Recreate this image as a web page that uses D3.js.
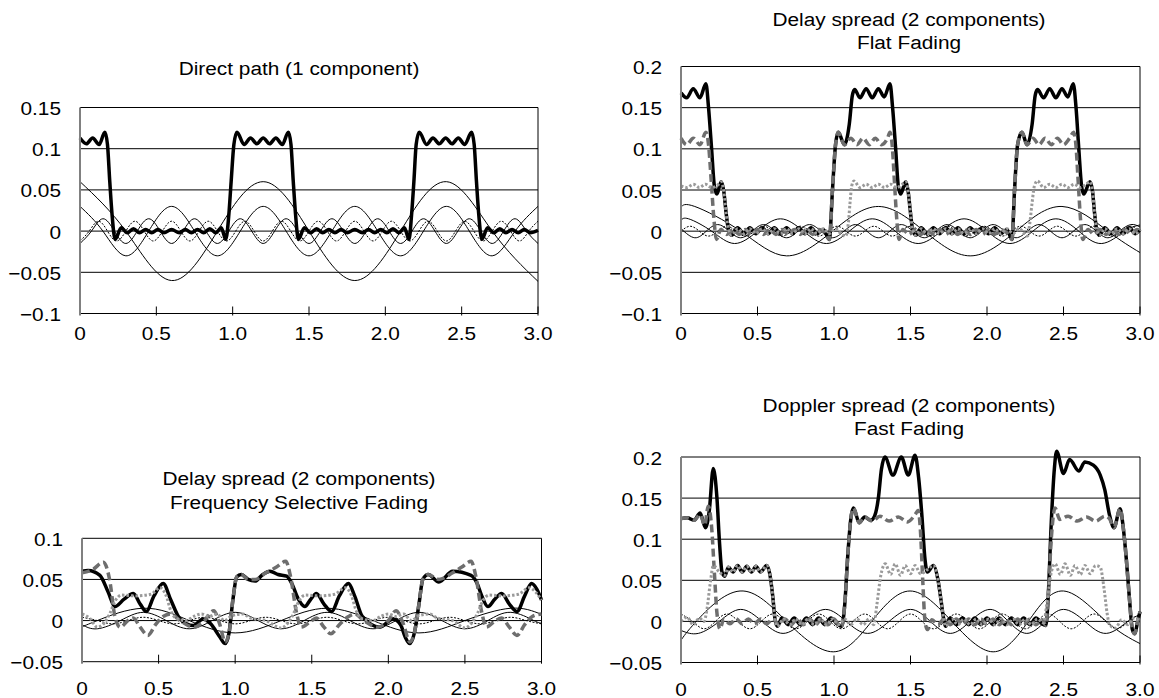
<!DOCTYPE html>
<html>
<head>
<meta charset="utf-8">
<script src="https://cdn.jsdelivr.net/npm/d3@7"></script>
<style>
  body { margin: 0; background: #fff; }
  text { font-family: "Liberation Sans", Arial, sans-serif; font-size: 18.6px; fill: #000; }
</style>
</head>
<body>
<svg id="chart" width="1159" height="698"></svg>
<script>
// ---------- DATA (t, value) ----------

// panel 1 : direct path
var p1Sum = [[0,0.113],[0.042,0.106],[0.083,0.113],[0.125,0.105],[0.163,0.12],[0.18,0.105],[0.195,0.06],[0.21,0.02],[0.23,-0.01],[0.27,0.004],[0.31,-0.002],[0.35,0.003],[0.39,-0.002],[0.43,0.002],[0.47,-0.002],[0.51,0.002],[0.55,-0.002],[0.6,0.002],[0.65,-0.002],[0.69,0.002],[0.73,-0.002],[0.77,0.002],[0.81,-0.002],[0.85,0.003],[0.89,-0.002],[0.925,0.004],[0.955,-0.01],[0.975,0.02],[0.99,0.06],[1.008,0.105],[1.028,0.12],[1.075,0.105],[1.117,0.113],[1.158,0.106],[1.2,0.113],[1.242,0.106],[1.283,0.113],[1.325,0.105],[1.365,0.12],[1.382,0.105],[1.397,0.06],[1.412,0.02],[1.43,-0.01],[1.47,0.004],[1.51,-0.002],[1.55,0.003],[1.59,-0.002],[1.63,0.002],[1.67,-0.002],[1.71,0.002],[1.75,-0.002],[1.8,0.002],[1.85,-0.002],[1.89,0.002],[1.93,-0.002],[1.97,0.002],[2.01,-0.002],[2.05,0.003],[2.09,-0.002],[2.125,0.004],[2.155,-0.01],[2.172,0.02],[2.187,0.06],[2.202,0.105],[2.222,0.12],[2.27,0.105],[2.312,0.113],[2.353,0.106],[2.395,0.113],[2.437,0.106],[2.478,0.113],[2.52,0.105],[2.565,0.12],[2.582,0.105],[2.597,0.06],[2.612,0.02],[2.632,-0.01],[2.67,0.004],[2.71,-0.002],[2.75,0.003],[2.79,-0.002],[2.83,0.002],[2.87,-0.002],[2.91,0.002],[2.95,-0.002],[3.0,0.001]];
var p1Wave1 = [[0,0.06],[0.3,0],[0.6,-0.06],[0.9,0],[1.2,0.06],[1.5,0],[1.8,-0.06],[2.1,0],[2.4,0.06],[2.7,0],[3.0,-0.061]];
var p1Wave2 = [[0,0.03],[0.15,0],[0.3,-0.03],[0.45,0],[0.6,0.03],[0.75,0],[0.9,-0.03],[1.05,0],[1.2,0.03],[1.35,0],[1.5,-0.03],[1.65,0],[1.8,0.03],[1.95,0],[2.1,-0.03],[2.25,0],[2.4,0.03],[2.55,0],[2.7,-0.03],[2.85,0],[3.0,0.03]];
var p1Wave4 = [[0,-0.015],[0.075,0],[0.15,0.015],[0.225,0],[0.3,-0.015],[0.375,0],[0.45,0.015],[0.525,0],[0.6,-0.015],[0.675,0],[0.75,0.015],[0.825,0],[0.9,-0.015],[0.975,0],[1.05,0.015],[1.125,0],[1.2,-0.015],[1.275,0],[1.35,0.015],[1.425,0],[1.5,-0.015],[1.575,0],[1.65,0.015],[1.725,0],[1.8,-0.015],[1.875,0],[1.95,0.015],[2.025,0],[2.1,-0.015],[2.175,0],[2.25,0.015],[2.325,0],[2.4,-0.015],[2.475,0],[2.55,0.015],[2.625,0],[2.7,-0.015],[2.775,0],[2.85,0.015],[2.925,0],[3.0,-0.015]];
var p1Wave5 = [[0,-0.012],[0.06,0],[0.12,0.012],[0.18,0],[0.24,-0.012],[0.3,0],[0.36,0.012],[0.42,0],[0.48,-0.012],[0.54,0],[0.6,0.012],[0.66,0],[0.72,-0.012],[0.78,0],[0.84,0.012],[0.9,0],[0.96,-0.012],[1.02,0],[1.08,0.012],[1.14,0],[1.2,-0.012],[1.26,0],[1.32,0.012],[1.38,0],[1.44,-0.012],[1.5,0],[1.56,0.012],[1.62,0],[1.68,-0.012],[1.74,0],[1.8,0.012],[1.86,0],[1.92,-0.012],[1.98,0],[2.04,0.012],[2.1,0],[2.16,-0.012],[2.22,0],[2.28,0.012],[2.34,0],[2.4,-0.012],[2.46,0],[2.52,0.012],[2.58,0],[2.64,-0.012],[2.7,0],[2.76,0.012],[2.82,0],[2.88,-0.012],[2.94,0],[3.0,0.012]];

// panel 2 : delay spread, flat fading
var p2Sum = [[0,0.168],[0.037,0.162],[0.08,0.173],[0.124,0.162],[0.163,0.179],[0.18,0.15],[0.2,0.1],[0.218,0.055],[0.235,0.045],[0.262,0.06],[0.28,0.048],[0.295,0.022],[0.31,0.002],[0.33,-0.005],[0.37,0.004],[0.41,-0.003],[0.45,0.004],[0.49,-0.003],[0.53,0.004],[0.57,-0.003],[0.61,0.004],[0.65,-0.003],[0.69,0.004],[0.73,-0.003],[0.77,0.004],[0.81,-0.003],[0.85,0.004],[0.89,-0.003],[0.93,0.002],[0.97,-0.01],[0.99,0.05],[1.01,0.105],[1.028,0.12],[1.068,0.105],[1.1,0.13],[1.12,0.165],[1.135,0.172],[1.17,0.162],[1.21,0.173],[1.25,0.162],[1.29,0.173],[1.328,0.163],[1.366,0.179],[1.383,0.15],[1.403,0.1],[1.42,0.055],[1.435,0.045],[1.469,0.06],[1.485,0.048],[1.5,0.022],[1.514,0.002],[1.535,-0.005],[1.57,0.004],[1.61,-0.003],[1.65,0.004],[1.69,-0.003],[1.73,0.004],[1.77,-0.003],[1.81,0.004],[1.85,-0.003],[1.89,0.004],[1.93,-0.003],[1.97,0.004],[2.01,-0.003],[2.05,0.004],[2.09,-0.003],[2.13,0.002],[2.163,-0.01],[2.18,0.05],[2.2,0.105],[2.228,0.12],[2.262,0.105],[2.295,0.13],[2.315,0.165],[2.33,0.172],[2.37,0.162],[2.41,0.173],[2.45,0.162],[2.49,0.173],[2.528,0.163],[2.564,0.179],[2.582,0.15],[2.6,0.1],[2.618,0.055],[2.632,0.045],[2.673,0.06],[2.69,0.048],[2.703,0.022],[2.717,0.002],[2.735,-0.005],[2.77,0.004],[2.81,-0.003],[2.85,0.004],[2.89,-0.003],[2.93,0.004],[2.97,-0.003],[3.0,0.002]];
var p2Comp1 = [[0,0.113],[0.037,0.105],[0.08,0.113],[0.124,0.105],[0.163,0.12],[0.18,0.105],[0.198,0.06],[0.215,0.015],[0.232,-0.01],[0.26,0.002],[0.3,-0.004],[0.34,0.002],[0.38,-0.004],[0.42,0.002],[0.46,-0.004],[0.5,0.002],[0.54,-0.004],[0.58,0.002],[0.62,-0.004],[0.66,0.002],[0.7,-0.004],[0.74,0.002],[0.78,-0.004],[0.82,0.002],[0.86,-0.004],[0.9,0.002],[0.94,-0.002],[0.97,-0.01],[0.99,0.05],[1.01,0.105],[1.028,0.12],[1.068,0.105],[1.11,0.113],[1.15,0.105],[1.19,0.113],[1.23,0.105],[1.27,0.113],[1.31,0.105],[1.35,0.113],[1.366,0.12],[1.38,0.105],[1.395,0.06],[1.41,0.015],[1.425,-0.01],[1.45,0.002],[1.49,-0.004],[1.53,0.002],[1.57,-0.004],[1.61,0.002],[1.65,-0.004],[1.69,0.002],[1.73,-0.004],[1.77,0.002],[1.81,-0.004],[1.85,0.002],[1.89,-0.004],[1.93,0.002],[1.97,-0.004],[2.01,0.002],[2.05,-0.004],[2.09,0.002],[2.13,-0.002],[2.163,-0.01],[2.18,0.05],[2.2,0.105],[2.228,0.12],[2.262,0.105],[2.3,0.113],[2.34,0.105],[2.38,0.113],[2.42,0.105],[2.46,0.113],[2.5,0.105],[2.54,0.113],[2.566,0.12],[2.581,0.105],[2.596,0.06],[2.611,0.015],[2.626,-0.01],[2.66,0.002],[2.7,-0.004],[2.74,0.002],[2.78,-0.004],[2.82,0.002],[2.86,-0.004],[2.9,0.002],[2.94,-0.004],[2.98,0.002],[3.0,0]];
var p2Comp2 = [[0,0.055],[0.04,0.053],[0.08,0.057],[0.12,0.053],[0.16,0.057],[0.2,0.053],[0.24,0.056],[0.262,0.06],[0.28,0.048],[0.295,0.022],[0.31,0.002],[0.33,-0.005],[0.37,0.003],[0.41,-0.003],[0.45,0.003],[0.49,-0.003],[0.53,0.003],[0.57,-0.003],[0.61,0.003],[0.65,-0.003],[0.69,0.003],[0.73,-0.003],[0.77,0.003],[0.81,-0.003],[0.85,0.003],[0.89,-0.003],[0.93,0.003],[0.97,-0.003],[1.01,0.003],[1.05,-0.004],[1.075,-0.006],[1.094,0.01],[1.105,0.035],[1.116,0.055],[1.13,0.061],[1.17,0.053],[1.21,0.057],[1.25,0.053],[1.29,0.057],[1.33,0.053],[1.37,0.057],[1.41,0.053],[1.44,0.056],[1.469,0.06],[1.485,0.048],[1.5,0.022],[1.514,0.002],[1.535,-0.005],[1.57,0.003],[1.61,-0.003],[1.65,0.003],[1.69,-0.003],[1.73,0.003],[1.77,-0.003],[1.81,0.003],[1.85,-0.003],[1.89,0.003],[1.93,-0.003],[1.97,0.003],[2.01,-0.003],[2.05,0.003],[2.09,-0.003],[2.13,0.003],[2.17,-0.003],[2.21,0.003],[2.25,-0.004],[2.265,-0.006],[2.28,0.01],[2.295,0.035],[2.31,0.055],[2.33,0.061],[2.37,0.053],[2.41,0.057],[2.45,0.053],[2.49,0.057],[2.53,0.053],[2.57,0.057],[2.61,0.053],[2.64,0.056],[2.673,0.06],[2.69,0.048],[2.703,0.022],[2.717,0.002],[2.735,-0.005],[2.77,0.003],[2.81,-0.003],[2.85,0.003],[2.89,-0.003],[2.93,0.003],[2.97,-0.003],[3.0,0.002]];
var p2Wave1 = [[0,0.029],[0.09,0.03],[0.39,0],[0.69,-0.03],[0.99,0],[1.29,0.03],[1.59,0],[1.89,-0.03],[2.19,0],[2.49,0.03],[2.79,0],[3.0,-0.026]];
var p2Wave2 = [[0,0.013],[0.05,0.015],[0.2,0],[0.35,-0.015],[0.5,0],[0.65,0.015],[0.8,0],[0.95,-0.015],[1.1,0],[1.25,0.015],[1.4,0],[1.55,-0.015],[1.7,0],[1.85,0.015],[2.0,0],[2.15,-0.015],[2.3,0],[2.45,0.015],[2.6,0],[2.75,-0.015],[2.9,0],[3.0,0.0075]];
var p2Wave3 = [[0,0.003],[0.09,-0.008],[0.165,0],[0.24,0.008],[0.315,0],[0.39,-0.008],[0.465,0],[0.54,0.008],[0.615,0],[0.69,-0.008],[0.765,0],[0.84,0.008],[0.915,0],[0.99,-0.008],[1.065,0],[1.14,0.008],[1.215,0],[1.29,-0.008],[1.365,0],[1.44,0.008],[1.515,0],[1.59,-0.008],[1.665,0],[1.74,0.008],[1.815,0],[1.89,-0.008],[1.965,0],[2.04,0.008],[2.115,0],[2.19,-0.008],[2.265,0],[2.34,0.008],[2.415,0],[2.49,-0.008],[2.565,0],[2.64,0.008],[2.715,0],[2.79,-0.008],[2.865,0],[2.94,0.008],[3.0,0.005]];
var p2Wave4 = [[0,0],[0.06,0.006],[0.12,0],[0.18,-0.006],[0.24,0],[0.3,0.006],[0.36,0],[0.42,-0.006],[0.48,0],[0.54,0.006],[0.6,0],[0.66,-0.006],[0.72,0],[0.78,0.006],[0.84,0],[0.9,-0.006],[0.96,0],[1.02,0.006],[1.08,0],[1.14,-0.006],[1.2,0],[1.26,0.006],[1.32,0],[1.38,-0.006],[1.44,0],[1.5,0.006],[1.56,0],[1.62,-0.006],[1.68,0],[1.74,0.006],[1.8,0],[1.86,-0.006],[1.92,0],[1.98,0.006],[2.04,0],[2.1,-0.006],[2.16,0],[2.22,0.006],[2.28,0],[2.34,-0.006],[2.4,0],[2.46,0.006],[2.52,0],[2.58,-0.006],[2.64,0],[2.7,0.006],[2.76,0],[2.82,-0.006],[2.88,0],[2.94,0.006],[3.0,0]];

// panel 3 : delay spread, frequency selective fading
var p3Sum = [[0,0.06],[0.04,0.061],[0.117,0.055],[0.17,0.035],[0.215,0.017],[0.275,0.026],[0.335,0.033],[0.38,0.02],[0.42,0.011],[0.47,0.03],[0.53,0.045],[0.58,0.025],[0.64,0.002],[0.727,-0.006],[0.79,0.002],[0.84,-0.004],[0.9,-0.02],[0.935,-0.028],[0.96,-0.015],[0.985,0.025],[1.01,0.053],[1.04,0.056],[1.085,0.05],[1.13,0.048],[1.18,0.056],[1.227,0.06],[1.28,0.056],[1.336,0.054],[1.37,0.045],[1.41,0.027],[1.455,0.017],[1.49,0.025],[1.53,0.033],[1.58,0.02],[1.63,0.011],[1.68,0.03],[1.74,0.045],[1.78,0.03],[1.83,0.005],[1.945,-0.008],[2.03,0.002],[2.08,-0.005],[2.11,-0.02],[2.14,-0.028],[2.17,-0.015],[2.2,0.02],[2.225,0.05],[2.26,0.056],[2.33,0.047],[2.42,0.06],[2.54,0.055],[2.58,0.045],[2.61,0.03],[2.65,0.017],[2.695,0.026],[2.74,0.033],[2.79,0.02],[2.84,0.011],[2.89,0.03],[2.935,0.045],[2.97,0.038],[3.0,0.025]];
var p3Comp1 = [[0,0.058],[0.07,0.062],[0.14,0.071],[0.18,0.05],[0.215,0.005],[0.25,-0.008],[0.3,0],[0.335,0.003],[0.38,-0.008],[0.43,-0.018],[0.48,-0.005],[0.53,0.005],[0.58,0.008],[0.64,0],[0.73,-0.008],[0.8,0],[0.86,0.012],[0.9,-0.005],[0.935,-0.026],[0.96,-0.015],[0.985,0.025],[1.01,0.053],[1.04,0.056],[1.085,0.05],[1.13,0.05],[1.2,0.058],[1.27,0.065],[1.33,0.072],[1.36,0.055],[1.4,0.01],[1.43,-0.008],[1.5,0],[1.53,0.003],[1.58,-0.008],[1.625,-0.016],[1.68,-0.005],[1.74,0.005],[1.78,0.008],[1.84,0],[1.93,-0.008],[2.0,0],[2.05,0.012],[2.1,-0.005],[2.14,-0.026],[2.17,-0.015],[2.2,0.02],[2.225,0.05],[2.26,0.056],[2.33,0.05],[2.42,0.058],[2.48,0.065],[2.54,0.072],[2.57,0.055],[2.61,0.01],[2.64,-0.008],[2.7,0],[2.74,0.003],[2.79,-0.008],[2.84,-0.018],[2.89,-0.005],[2.94,0.005],[3.0,0.008]];
var p3Comp2 = [[0,0.008],[0.05,0.003],[0.1,-0.008],[0.14,-0.004],[0.18,0.008],[0.22,0.025],[0.26,0.031],[0.35,0.03],[0.45,0.032],[0.51,0.04],[0.55,0.03],[0.58,0.012],[0.62,0.002],[0.68,0],[0.73,0.005],[0.78,0.008],[0.83,0.005],[0.88,0.008],[0.93,0],[0.98,0.006],[1.05,0.008],[1.1,0.003],[1.2,0],[1.3,-0.009],[1.34,-0.004],[1.38,0.008],[1.42,0.025],[1.46,0.031],[1.55,0.03],[1.65,0.032],[1.72,0.04],[1.76,0.03],[1.79,0.012],[1.83,0.002],[1.9,0],[1.95,0.005],[2.0,0.008],[2.05,0.005],[2.1,0.008],[2.15,0],[2.2,0.006],[2.27,0.008],[2.32,0.003],[2.42,0],[2.5,-0.009],[2.54,-0.004],[2.58,0.008],[2.62,0.025],[2.66,0.031],[2.75,0.03],[2.85,0.032],[2.92,0.04],[2.96,0.035],[3.0,0.025]];
var p3Wave1 = [[0,-0.0075],[0.1,0],[0.4,0.015],[0.7,0],[1.0,-0.015],[1.3,0],[1.6,0.015],[1.9,0],[2.2,-0.015],[2.5,0],[2.8,0.015],[3.0,0.0075]];
var p3Wave2 = [[0,-0.005],[0.1,-0.01],[0.25,0],[0.4,0.01],[0.55,0],[0.7,-0.01],[0.85,0],[1.0,0.01],[1.15,0],[1.3,-0.01],[1.45,0],[1.6,0.01],[1.75,0],[1.9,-0.01],[2.05,0],[2.2,0.01],[2.35,0],[2.5,-0.01],[2.65,0],[2.8,0.01],[2.95,0],[3.0,-0.003]];
var p3Wave3 = [[0,0.004],[0.1,0],[0.2,-0.004],[0.3,0],[0.4,0.004],[0.5,0],[0.6,-0.004],[0.7,0],[0.8,0.004],[0.9,0],[1.0,-0.004],[1.1,0],[1.2,0.004],[1.3,0],[1.4,-0.004],[1.5,0],[1.6,0.004],[1.7,0],[1.8,-0.004],[1.9,0],[2.0,0.004],[2.1,0],[2.2,-0.004],[2.3,0],[2.4,0.004],[2.5,0],[2.6,-0.004],[2.7,0],[2.8,0.004],[2.9,0],[3.0,-0.004]];

// panel 4 : doppler spread, fast fading
var p4Sum = [[0,0.125],[0.04,0.126],[0.085,0.123],[0.125,0.132],[0.16,0.114],[0.185,0.135],[0.211,0.186],[0.235,0.15],[0.252,0.095],[0.268,0.06],[0.285,0.055],[0.31,0.066],[0.34,0.06],[0.37,0.068],[0.4,0.06],[0.43,0.067],[0.46,0.06],[0.49,0.067],[0.52,0.06],[0.56,0.068],[0.58,0.058],[0.6,0.03],[0.615,0.002],[0.63,-0.006],[0.66,0.004],[0.7,-0.004],[0.74,0.004],[0.78,-0.004],[0.82,0.004],[0.86,-0.004],[0.9,0.004],[0.94,-0.004],[0.98,0.004],[1.02,-0.003],[1.05,-0.006],[1.07,0.02],[1.09,0.08],[1.11,0.125],[1.127,0.138],[1.165,0.12],[1.2,0.127],[1.24,0.123],[1.265,0.128],[1.29,0.15],[1.31,0.185],[1.333,0.2],[1.385,0.178],[1.44,0.2],[1.485,0.178],[1.53,0.202],[1.553,0.175],[1.574,0.13],[1.595,0.075],[1.61,0.06],[1.65,0.068],[1.68,0.05],[1.7,0.025],[1.715,0.005],[1.73,-0.006],[1.76,0.004],[1.8,-0.004],[1.84,0.004],[1.88,-0.004],[1.92,0.004],[1.96,-0.004],[2.0,0.004],[2.04,-0.004],[2.08,0.004],[2.12,-0.004],[2.16,0.004],[2.2,-0.004],[2.24,0.004],[2.28,-0.004],[2.32,0.004],[2.36,-0.003],[2.385,-0.005],[2.4,0.03],[2.42,0.12],[2.44,0.185],[2.455,0.207],[2.5,0.18],[2.54,0.197],[2.6,0.183],[2.64,0.194],[2.695,0.19],[2.74,0.178],[2.77,0.16],[2.8,0.13],[2.83,0.114],[2.87,0.137],[2.89,0.115],[2.91,0.077],[2.93,0.03],[2.95,-0.01],[2.965,-0.015],[2.985,0],[3.0,0.012]];
var p4Comp1 = [[0,0.125],[0.04,0.126],[0.085,0.123],[0.125,0.13],[0.155,0.117],[0.178,0.14],[0.2,0.115],[0.218,0.06],[0.235,0.01],[0.255,-0.009],[0.28,0.003],[0.32,-0.003],[0.36,0.003],[0.4,-0.003],[0.44,0.003],[0.48,-0.003],[0.52,0.003],[0.56,-0.003],[0.6,0.003],[0.64,-0.004],[0.68,0.003],[0.72,-0.004],[0.76,0.003],[0.8,-0.004],[0.84,0.003],[0.88,-0.004],[0.92,0.003],[0.96,-0.004],[1.0,0.003],[1.03,-0.004],[1.05,-0.006],[1.07,0.02],[1.09,0.08],[1.11,0.125],[1.127,0.138],[1.165,0.12],[1.2,0.127],[1.25,0.122],[1.3,0.128],[1.36,0.122],[1.42,0.127],[1.48,0.121],[1.53,0.13],[1.55,0.135],[1.565,0.11],[1.58,0.05],[1.595,0],[1.61,-0.01],[1.64,0.002],[1.68,-0.004],[1.72,0.003],[1.76,-0.004],[1.8,0.003],[1.84,-0.004],[1.88,0.003],[1.92,-0.004],[1.96,0.003],[2.0,-0.004],[2.04,0.003],[2.08,-0.004],[2.12,0.003],[2.16,-0.004],[2.2,0.003],[2.24,-0.004],[2.28,0.003],[2.32,-0.004],[2.36,0.002],[2.385,-0.005],[2.4,0.03],[2.42,0.1],[2.445,0.138],[2.475,0.124],[2.53,0.128],[2.59,0.122],[2.65,0.127],[2.71,0.122],[2.77,0.128],[2.8,0.125],[2.83,0.114],[2.87,0.137],[2.89,0.115],[2.91,0.077],[2.93,0.03],[2.95,-0.01],[2.965,-0.015],[2.985,0],[3.0,0.012]];
var p4Comp2 = [[0,0],[0.04,0.005],[0.08,-0.004],[0.12,0.004],[0.15,0],[0.17,0.015],[0.19,0.045],[0.212,0.068],[0.25,0.06],[0.285,0.056],[0.31,0.066],[0.34,0.06],[0.37,0.068],[0.4,0.06],[0.43,0.067],[0.46,0.06],[0.49,0.067],[0.52,0.06],[0.56,0.068],[0.58,0.058],[0.6,0.03],[0.615,0.002],[0.63,-0.006],[0.67,0.003],[0.71,-0.004],[0.75,0.003],[0.79,-0.004],[0.83,0.003],[0.87,-0.004],[0.91,0.003],[0.95,-0.004],[0.99,0.003],[1.03,-0.004],[1.07,0.003],[1.11,-0.004],[1.15,0.003],[1.19,-0.004],[1.23,0.003],[1.26,-0.004],[1.28,0.02],[1.305,0.055],[1.335,0.07],[1.37,0.057],[1.4,0.07],[1.435,0.056],[1.465,0.068],[1.5,0.058],[1.53,0.068],[1.565,0.058],[1.61,0.063],[1.65,0.068],[1.68,0.05],[1.7,0.025],[1.715,0.005],[1.73,-0.006],[1.77,0.003],[1.81,-0.004],[1.85,0.003],[1.89,-0.004],[1.93,0.003],[1.97,-0.004],[2.01,0.003],[2.05,-0.004],[2.09,0.003],[2.13,-0.004],[2.17,0.003],[2.21,-0.004],[2.25,0.003],[2.29,-0.004],[2.33,0.003],[2.37,-0.002],[2.39,0.02],[2.415,0.055],[2.445,0.07],[2.48,0.057],[2.51,0.07],[2.545,0.056],[2.575,0.068],[2.61,0.057],[2.64,0.068],[2.675,0.058],[2.71,0.068],[2.74,0.066],[2.765,0.04],[2.785,0.01],[2.8,-0.004],[2.84,-0.008],[2.88,0.002],[2.92,-0.004],[2.96,0.004],[3.0,0]];
var p4Wave1 = [[0,-0.023],[0.1,0],[0.386,0.037],[0.69,0],[0.995,-0.037],[1.246,0],[1.497,0.037],[1.77,0],[2.04,-0.037],[2.27,0],[2.5,0.037],[2.78,0],[3.0,-0.027]];
var p4Wave2 = [[0,-0.011],[0.113,-0.0146],[0.25,0],[0.39,0.0146],[0.53,0],[0.667,-0.0146],[0.805,0],[0.945,0.0146],[1.08,0],[1.22,-0.0146],[1.36,0],[1.5,0.0146],[1.63,0],[1.76,-0.0146],[1.89,0],[2.02,0.0146],[2.14,0],[2.26,-0.0146],[2.38,0],[2.5,0.0146],[2.64,0],[2.78,-0.0146],[2.92,0],[3.0,0.008]];
var p4Wave3 = [[0,0.009],[0.075,0],[0.15,-0.009],[0.225,0],[0.3,0.009],[0.375,0],[0.45,-0.009],[0.525,0],[0.6,0.009],[0.675,0],[0.75,-0.009],[0.825,0],[0.9,0.009],[0.975,0],[1.05,-0.009],[1.125,0],[1.2,0.009],[1.275,0],[1.35,-0.009],[1.425,0],[1.5,0.009],[1.575,0],[1.65,-0.009],[1.725,0],[1.8,0.009],[1.875,0],[1.95,-0.009],[2.025,0],[2.1,0.009],[2.175,0],[2.25,-0.009],[2.325,0],[2.4,0.009],[2.475,0],[2.55,-0.009],[2.625,0],[2.7,0.009],[2.775,0],[2.85,-0.009],[2.925,0],[3.0,0.009]];

// axis ticks
var xTicks = [0, 0.5, 1.0, 1.5, 2.0, 2.5, 3.0];
var xTickLabels = ["0", "0.5", "1.0", "1.5", "2.0", "2.5", "3.0"];
var yTicks1 = [-0.1, -0.05, 0, 0.05, 0.1, 0.15];
var yTicks2 = [-0.1, -0.05, 0, 0.05, 0.1, 0.15, 0.2];
var yTicks3 = [-0.05, 0, 0.05, 0.1];
var yTicks4 = [-0.05, 0, 0.05, 0.1, 0.15, 0.2];

// ---------- LAYOUT ----------
var svg = d3.select("#chart");
var stretch = 1.12;   // the original text is a bit wider than Arial

var styles = {
  wave:     {stroke: "#000", width: 1, dash: null, curve: d3.curveNatural},
  waveDash: {stroke: "#000", width: 1, dash: "2,1.5", curve: d3.curveNatural},
  sum:      {stroke: "#000", width: 3.5, dash: null, curve: d3.curveMonotoneX},
  comp1:    {stroke: "#6e6e6e", width: 3.5, dash: "8,4", curve: d3.curveMonotoneX},
  comp2:    {stroke: "#9a9a9a", width: 3, dash: "2.5,2", curve: d3.curveMonotoneX}
};

var panels = [
  {x: [80, 538], y: [313.5, 107.5], yDom: [-0.1, 0.15], yTicks: yTicks1, xLabelDy: 26,
   title: ["Direct path (1 component)"], titleX: 299, titleY: 75,
   series: [[p1Wave1, "wave"], [p1Wave2, "wave"], [p1Wave4, "wave"], [p1Wave5, "waveDash"], [p1Sum, "sum"]]},
  {x: [681, 1140], y: [313.5, 66.5], yDom: [-0.1, 0.2], yTicks: yTicks2, xLabelDy: 26,
   title: ["Delay spread (2 components)", "Flat Fading"], titleX: 909, titleY: 25.5,
   series: [[p2Wave1, "wave"], [p2Wave2, "wave"], [p2Wave3, "wave"], [p2Wave4, "waveDash"], [p2Sum, "sum"], [p2Comp1, "comp1"], [p2Comp2, "comp2"]]},
  {x: [82, 541.5], y: [661.7, 538.3], yDom: [-0.05, 0.1], yTicks: yTicks3, xLabelDy: 33,
   title: ["Delay spread (2 components)", "Frequency Selective Fading"], titleX: 299, titleY: 485,
   series: [[p3Wave1, "wave"], [p3Wave2, "wave"], [p3Wave3, "waveDash"], [p3Sum, "sum"], [p3Comp1, "comp1"], [p3Comp2, "comp2"]]},
  {x: [681, 1140], y: [662.5, 457], yDom: [-0.05, 0.2], yTicks: yTicks4, xLabelDy: 33,
   title: ["Doppler spread (2 components)", "Fast Fading"], titleX: 909, titleY: 411.5,
   series: [[p4Wave1, "wave"], [p4Wave2, "wave"], [p4Wave3, "waveDash"], [p4Sum, "sum"], [p4Comp1, "comp1"], [p4Comp2, "comp2"]]}
];

function addText(g, x, y, str, anchor) {
  g.append("text")
    .attr("transform", "translate(" + x + "," + y + ") scale(" + stretch + ",1)")
    .attr("text-anchor", anchor)
    .text(str);
}

function fmtY(v) {
  if (v === 0) return "0";
  var s = String(Math.abs(Math.round(v * 1000) / 1000));
  return (v < 0 ? "\u2212" : "") + s;
}

panels.forEach(function(p) {
  var g = svg.append("g");
  var x = d3.scaleLinear().domain([0, 3]).range(p.x);
  var y = d3.scaleLinear().domain(p.yDom).range(p.y);

  // gridlines
  g.selectAll(".grid").data(p.yTicks).enter().append("line")
    .attr("x1", p.x[0]).attr("x2", p.x[1])
    .attr("y1", function(d) { return y(d); }).attr("y2", function(d) { return y(d); })
    .attr("stroke", "#000").attr("stroke-width", 1);

  // right border
  g.append("line")
    .attr("x1", p.x[1]).attr("x2", p.x[1]).attr("y1", p.y[0]).attr("y2", p.y[1])
    .attr("stroke", "#000").attr("stroke-width", 1);

  // x ticks
  g.selectAll(".tick").data(xTicks).enter().append("line")
    .attr("x1", function(d) { return x(d); }).attr("x2", function(d) { return x(d); })
    .attr("y1", p.y[0] - 7).attr("y2", p.y[0] + 2)
    .attr("stroke", "#000").attr("stroke-width", 1);

  // series
  p.series.forEach(function(s) {
    var st = styles[s[1]];
    var line = d3.line()
      .x(function(d) { return x(d[0]); })
      .y(function(d) { return y(d[1]); })
      .curve(st.curve);
    g.append("path")
      .attr("d", line(s[0]))
      .attr("fill", "none")
      .attr("stroke", st.stroke)
      .attr("stroke-width", st.width)
      .attr("stroke-dasharray", st.dash)
      .attr("stroke-linejoin", "round");
  });

  // y axis line
  g.append("line")
    .attr("x1", p.x[0]).attr("x2", p.x[0]).attr("y1", p.y[0] + 1).attr("y2", p.y[1])
    .attr("stroke", "#808080").attr("stroke-width", 2);

  // tick labels
  p.yTicks.forEach(function(v) { addText(g, p.x[0] - 19, y(v) + 7.5, fmtY(v), "end"); });
  xTicks.forEach(function(v, i) { addText(g, x(v), p.y[0] + p.xLabelDy, xTickLabels[i], "middle"); });

  // title
  p.title.forEach(function(t, i) { addText(g, p.titleX, p.titleY + i * 23.5, t, "middle"); });
});
</script>
</body>
</html>
